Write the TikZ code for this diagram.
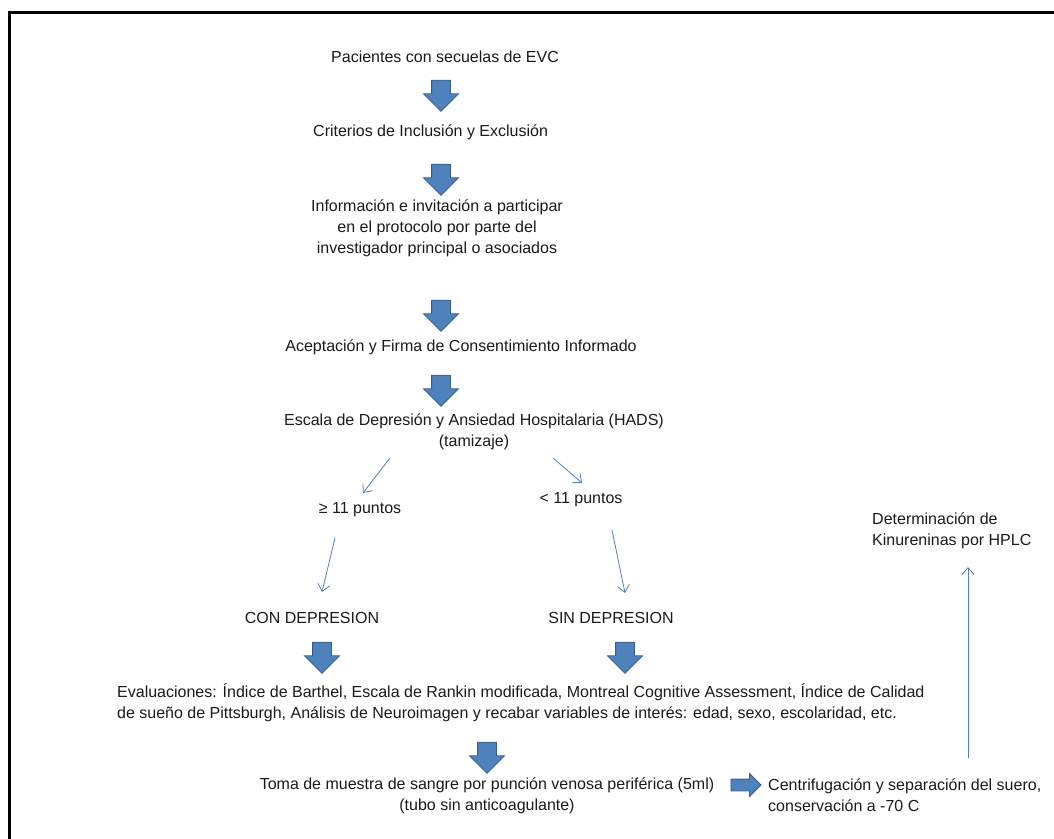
\documentclass[tikz,border=0pt]{standalone}
\usepackage{fontspec}
\setmainfont{Liberation Sans}
\usetikzlibrary{shapes.arrows,arrows.meta}
\definecolor{arrfill}{HTML}{4F81BD}
\definecolor{arrdraw}{HTML}{385D8A}
\definecolor{txt}{HTML}{1A1A1A}
\tikzset{
  lbl/.style={inner sep=0pt, text=txt, font=\fontsize{16}{21}\selectfont, align=center},
  lblL/.style={lbl, align=left, anchor=west},
  bigdown/.style={single arrow, shape border rotate=270, fill=arrfill, draw=arrdraw, line width=0.8pt,
    inner xsep=9pt, inner ysep=0pt, minimum height=31pt, single arrow head extend=8pt},
  bigright/.style={single arrow, fill=arrfill, draw=arrdraw, line width=0.8pt,
    inner xsep=0pt, inner ysep=5.5pt, minimum height=30pt, single arrow head extend=5.5pt},
  thin/.style={draw=arrfill, line width=0.8pt, -{Straight Barb[length=7pt,width=12pt]}}
}
\begin{document}
\begin{tikzpicture}[x=1pt,y=-1pt]
\useasboundingbox (0,0) rectangle (1054,838);
\draw[line width=2.5pt] (9.5,12.5) rectangle (1070,860);

\node[lblL] (p1) at (331,57) {Pacientes con secuelas de EVC};
\node[bigdown] (a1) at (441,91) {};
\node[lblL] (p2) at (313,132) {Criterios de Inclusión y Exclusión};
\node[bigdown] (a2) at (441,175) {};
\node[lbl] (p3) at (437,228) {Información e invitación a participar\\en el protocolo por parte del\\investigador principal o asociados};
\node[bigdown] (a3) at (441,311) {};
\node[lbl] (p4) at (461,347) {Aceptación y Firma de Consentimiento Informado};
\node[bigdown] (a4) at (441,386) {};
\node[lbl] (p5) at (474,432) {Escala de Depresión y Ansiedad Hospitalaria (HADS)\\(tamizaje)};

\node[lbl] (g11) at (360,510) {≥ 11 puntos};
\node[lbl] (l11) at (581,500) {< 11 puntos};
\coordinate (c1s) at (390,458);
\coordinate (c1e) at (363,493);
\coordinate (c2s) at (553,458);
\coordinate (c2e) at (582,483);
\draw[thin] (c1s) -- (c1e);
\draw[thin] (c2s) -- (c2e);

\node[lbl] (con) at (312,618) {CON DEPRESION};
\node[lbl] (sin) at (611,618) {SIN DEPRESION};
\coordinate (c3s) at (335,538);
\coordinate (c3e) at (322,592);
\coordinate (c4s) at (612,530);
\coordinate (c4e) at (625,593);
\draw[thin] (c3s) -- (c3e);
\draw[thin] (c4s) -- (c4e);

\node[bigdown] (a5) at (322,653) {};
\node[bigdown] (a6) at (625,653) {};

\node[lblL] (ev) at (117,702.5) {Evaluaciones: Índice de Barthel, Escala de Rankin modificada, Montreal Cognitive Assessment, Índice de Calidad\\de sueño de Pittsburgh, Análisis de Neuroimagen y recabar variables de interés: edad, sexo, escolaridad, etc.};
\node[bigdown] (a7) at (487,753) {};

\node[lbl] (toma) at (487,795.5) {Toma de muestra de sangre por punción venosa periférica (5ml)\\(tubo sin anticoagulante)};
\node[bigright] (a8) at (743,785) {};
\node[lblL] (cen) at (768,795.5) {Centrifugación y separación del suero,\\conservación a -70 C};

\node[lblL] (det) at (872,530.5) {Determinación de\\Kinureninas por HPLC};
\coordinate (c5s) at (968,758);
\coordinate (c5e) at (968,567);
\draw[thin] (c5s) -- (c5e);
\end{tikzpicture}
\end{document}
